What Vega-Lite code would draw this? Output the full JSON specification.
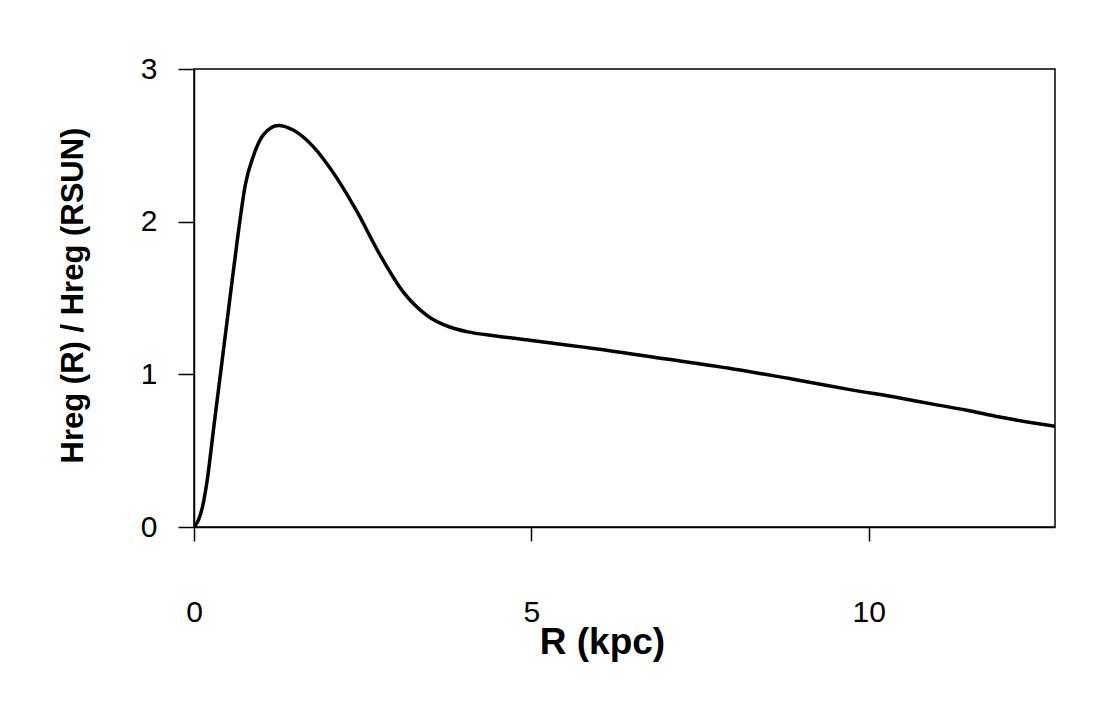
{
  "$schema": "https://vega.github.io/schema/vega-lite/v6.json",
  "autosize": {"type": "none"},
  "width": 861,
  "height": 458,
  "padding": {"left": 194, "top": 69, "right": 52, "bottom": 186},
  "background": "white",
  "config": {
    "view": {"stroke": "black", "strokeWidth": 1.5},
    "font": "Liberation Sans",
    "axis": {"grid": false, "domainColor": "black", "domainWidth": 1.5, "tickColor": "black", "tickWidth": 1.5, "labelColor": "black", "titleColor": "black", "labelFont": "Liberation Sans", "titleFont": "Liberation Sans"}
  },
  "data": {"values": [
    {"R": 0, "H": 0},
    {"R": 0.07, "H": 0.05},
    {"R": 0.13, "H": 0.14},
    {"R": 0.19, "H": 0.29},
    {"R": 0.3, "H": 0.68},
    {"R": 0.42, "H": 1.1},
    {"R": 0.55, "H": 1.56},
    {"R": 0.66, "H": 1.94},
    {"R": 0.76, "H": 2.24},
    {"R": 0.88, "H": 2.43},
    {"R": 1.03, "H": 2.57},
    {"R": 1.25, "H": 2.63},
    {"R": 1.47, "H": 2.6},
    {"R": 1.77, "H": 2.49},
    {"R": 2.11, "H": 2.29},
    {"R": 2.41, "H": 2.07},
    {"R": 2.76, "H": 1.78},
    {"R": 3.1, "H": 1.54},
    {"R": 3.44, "H": 1.39},
    {"R": 3.79, "H": 1.31},
    {"R": 4.04, "H": 1.28},
    {"R": 4.5, "H": 1.25},
    {"R": 5.03, "H": 1.22},
    {"R": 6.01, "H": 1.165},
    {"R": 7.0, "H": 1.1},
    {"R": 7.99, "H": 1.035},
    {"R": 8.98, "H": 0.96},
    {"R": 9.72, "H": 0.9},
    {"R": 10.46, "H": 0.845},
    {"R": 10.95, "H": 0.805},
    {"R": 11.45, "H": 0.765},
    {"R": 11.94, "H": 0.72},
    {"R": 12.76, "H": 0.66}
  ]},
  "mark": {"type": "line", "color": "black", "strokeWidth": 3.5, "interpolate": "monotone", "clip": true},
  "encoding": {
    "x": {
      "field": "R", "type": "quantitative",
      "scale": {"domain": [0, 12.76], "nice": false, "zero": false},
      "axis": {
        "values": [0, 5, 10], "tickSize": 14, "labelFontSize": 30, "labelPadding": 56,
        "labelFlush": false,
        "title": "R (kpc)", "titleFontSize": 37, "titleFontWeight": "bold",
        "titleX": 408, "titleY": 126, "titleAlign": "center", "titleBaseline": "alphabetic"
      }
    },
    "y": {
      "field": "H", "type": "quantitative",
      "scale": {"domain": [0, 3], "nice": false},
      "axis": {
        "values": [0, 1, 2, 3], "tickSize": 16, "labelFontSize": 30, "labelPadding": 21,
        "labelFlush": false,
        "title": "Hreg (R) / Hreg (RSUN)", "titleFontSize": 31, "titleFontWeight": "bold",
        "titleAngle": -90, "titleX": -112, "titleY": 226, "titleAlign": "center", "titleBaseline": "alphabetic"
      }
    }
  }
}
